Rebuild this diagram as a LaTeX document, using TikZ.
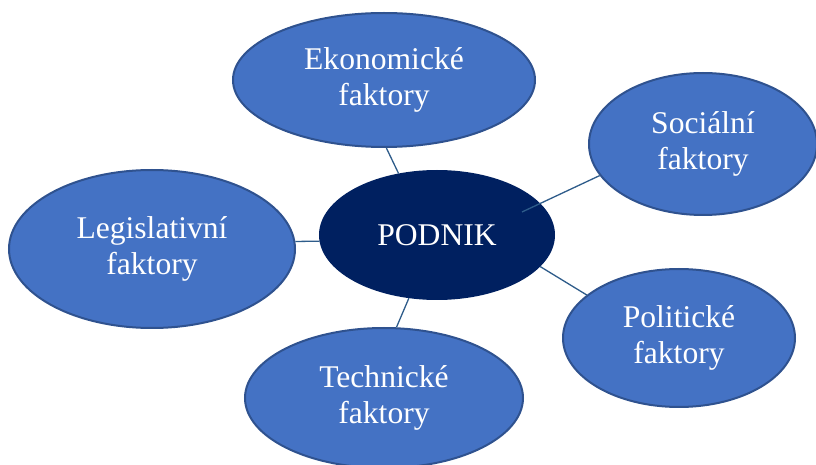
\documentclass[tikz,border=0pt]{standalone}
\usepackage{fontspec}
\setmainfont{Liberation Serif}
\usepackage{tikz}
\usetikzlibrary{shapes.geometric}
\newcommand{\factorFont}[0]{\fontsize{15.8}{18}\selectfont}
\newcommand{\edgeWidth}[0]{0.65pt}
\definecolor{factorblue}{HTML}{4472C4}
\definecolor{factorborder}{HTML}{2F528F}
\definecolor{corenavy}{HTML}{002060}
\definecolor{edgeblue}{HTML}{2E5C8A}

\begin{document}
\begin{tikzpicture}[x=0.5pt, y=-0.5pt]
  \tikzset{factor/.style={ellipse, draw=factorborder, line width=1pt, fill=factorblue, text=white, align=center, inner sep=0pt, font=\factorFont},
           core/.style={factor, fill=corenavy, draw=corenavy}}
  \useasboundingbox (0,0) rectangle (816,465);
  \node[core, minimum width=117pt, minimum height=64pt] (PODNIK) at (437,235) {PODNIK};
  \node[factor, minimum width=151pt, minimum height=67pt] (eko) at (384,80) {Ekonomické\\faktory};
  \node[factor, minimum width=114pt, minimum height=71pt] (soc) at (703,144) {Sociální\\faktory};
  \node[factor, minimum width=143pt, minimum height=79pt] (leg) at (152,249) {Legislativní\\faktory};
  \node[factor, minimum width=116pt, minimum height=69pt] (pol) at (679,338) {Politické\\faktory};
  \node[factor, minimum width=139pt, minimum height=70pt] (tech) at (384,398) {Technické\\faktory};
  \coordinate (PODNIK-soc) at (522,212);
  \draw[edgeblue, line width=\edgeWidth] (eko.-88) -- (PODNIK.122);
  \draw[edgeblue, line width=\edgeWidth] (PODNIK-soc) -- (soc.197);
  \draw[edgeblue, line width=\edgeWidth] (leg.3) -- (PODNIK.183);
  \draw[edgeblue, line width=\edgeWidth] (PODNIK.-17) -- (pol.155);
  \draw[edgeblue, line width=\edgeWidth] (PODNIK.-114) -- (tech.80);
\end{tikzpicture}
\end{document}
